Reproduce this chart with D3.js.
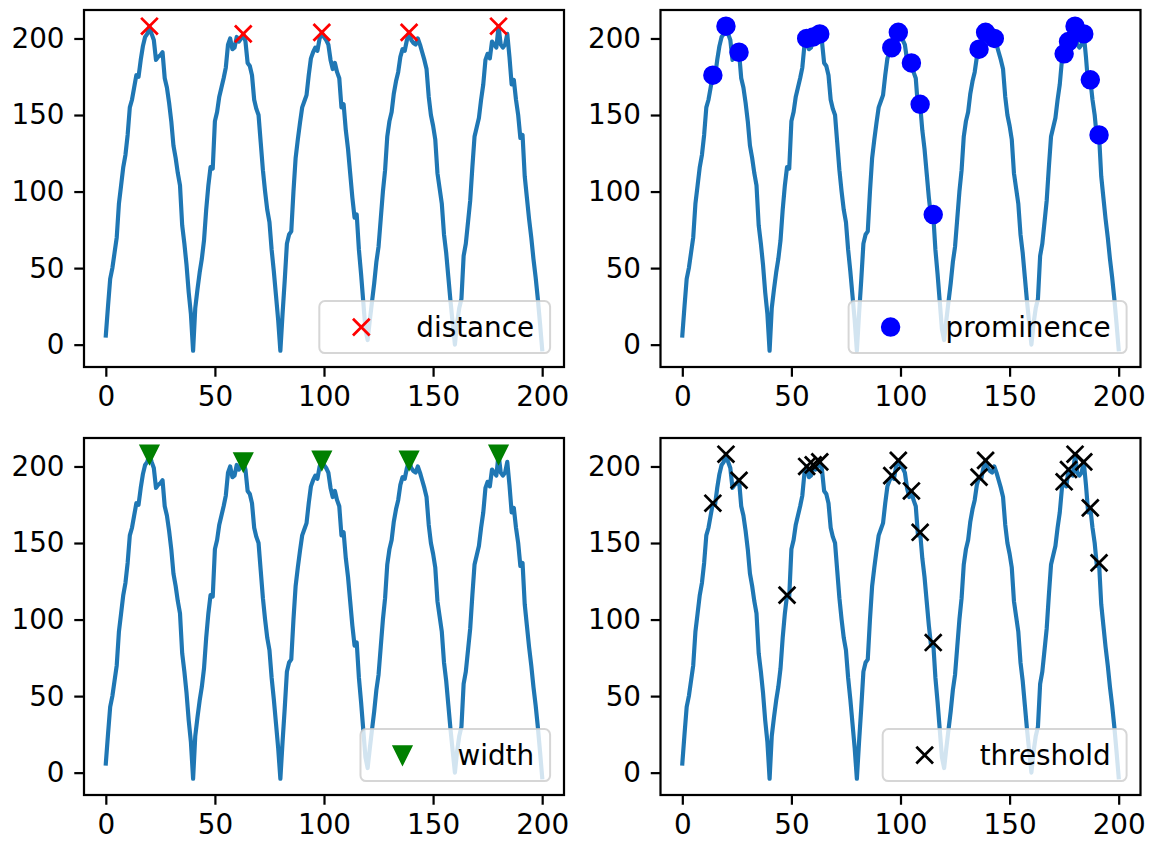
<!DOCTYPE html>
<html>
<head>
<meta charset="utf-8">
<script src="https://cdn.jsdelivr.net/npm/d3@7"></script>
<style>
  body { margin: 0; background: #fff; }
  text { font-family: "DejaVu Sans", sans-serif; }
</style>
</head>
<body>
<div id="chart"></div>
<script>
// signal values, one per sample (x = sample index 0..200)
var signal = [
    6, 25, 43, 50, 60, 70, 92, 104, 116, 124,
    137, 155, 160, 168, 176, 175, 186, 195, 201, 203,
    208, 203, 199, 186, 188, 189, 191, 174, 168, 158,
    146, 130, 122, 112, 104, 78, 66, 52, 34, 20,
    -4, 24, 36, 47, 56, 68, 88, 104, 116, 115,
    146, 152, 162, 168, 174, 181, 196, 200, 193, 194,
    201, 198, 200, 203, 198, 184, 182, 176, 160, 154,
    150, 132, 114, 100, 88, 80, 62, 48, 32, 16,
    -4, 20, 42, 66, 72, 74, 100, 122, 134, 145,
    155, 159, 163, 176, 187, 191, 194, 192, 200, 204,
    201, 199, 196, 186, 180, 184, 178, 174, 155, 157,
    140, 128, 112, 96, 83, 85, 62, 46, 28, 10,
    3, 16, 28, 40, 54, 64, 82, 100, 114, 136,
    146, 152, 164, 172, 178, 188, 193, 192, 199, 204,
    199, 197, 196, 200, 196, 191, 186, 180, 162, 150,
    143, 134, 112, 102, 92, 72, 60, 44, 28, 14,
    0, 14, 24, 30, 58, 66, 80, 94, 116, 136,
    142, 148, 160, 170, 186, 190, 187, 198, 196, 194,
    208, 196, 194, 196, 203, 188, 170, 173, 160, 150,
    135, 137, 110, 96, 82, 70, 56, 44, 30, 14,
    -3
]

// peak indices found with each criterion
var peaks_distance = [20, 63, 99, 139, 180]
var peaks_prominence = [14, 20, 26, 57, 60, 63, 96, 99, 105, 109, 115, 136, 139, 143, 175, 177, 180, 184, 187, 191]
var peaks_width = [20, 63, 99, 139, 180]
var peaks_threshold = [14, 20, 26, 48, 57, 60, 63, 96, 99, 105, 109, 115, 136, 139, 175, 177, 180, 184, 187, 191]

var labels = ['distance', 'prominence', 'width', 'threshold']
var x_ticks = [0, 50, 100, 150, 200]
var y_ticks = [0, 50, 100, 150, 200]

var chart_width = 1152
var chart_height = 854
var fs = 27.8          // 10pt at this dpi
var pt = fs / 10

var svg = d3.select('#chart')
    .append('svg')
    .attr('width', chart_width)
    .attr('height', chart_height)

svg.append('rect')
    .attr('width', chart_width)
    .attr('height', chart_height)
    .attr('fill', '#fff')

var panels = [
    { label: labels[0], peaks: peaks_distance, marker: 'x', color: '#ff0000', left: 84, top: 10 },
    { label: labels[1], peaks: peaks_prominence, marker: 'o', color: '#0000ff', left: 660.5, top: 10 },
    { label: labels[2], peaks: peaks_width, marker: 'v', color: '#008000', left: 84, top: 438 },
    { label: labels[3], peaks: peaks_threshold, marker: 'x', color: '#000000', left: 660.5, top: 438 }
]
var pw = 480
var ph = 357

// matplotlib style 5% margins
var x_ext = [0, signal.length - 1]
var y_ext = d3.extent(signal)
var x_pad = (x_ext[1] - x_ext[0]) * 0.05
var y_pad = (y_ext[1] - y_ext[0]) * 0.05

var ms = 6 * pt / 2  // half marker size

function markerPath(type) {
    if (type === 'x') return 'M' + (-ms) + ',' + (-ms) + 'L' + ms + ',' + ms + 'M' + (-ms) + ',' + ms + 'L' + ms + ',' + (-ms)
    if (type === 'v') return 'M' + (-ms) + ',' + (-ms) + 'L' + ms + ',' + (-ms) + 'L0,' + ms + 'Z'
    return null
}

function drawMarker(sel, type, color) {
    if (type === 'o') {
        sel.append('circle')
            .attr('r', ms)
            .attr('fill', color)
            .attr('stroke', color)
            .attr('stroke-width', pt)
    } else {
        sel.append('path')
            .attr('d', markerPath(type))
            .attr('fill', type === 'x' ? 'none' : color)
            .attr('stroke', color)
            .attr('stroke-width', pt)
    }
}

panels.forEach(function(p, k) {
    var g = svg.append('g')
        .attr('transform', 'translate(' + p.left + ',' + p.top + ')')

    var x_scale = d3.scaleLinear()
        .domain([x_ext[0] - x_pad, x_ext[1] + x_pad])
        .range([0, pw])
    var y_scale = d3.scaleLinear()
        .domain([y_ext[0] - y_pad, y_ext[1] + y_pad])
        .range([ph, 0])

    g.append('clipPath')
        .attr('id', 'clip' + k)
        .append('rect')
        .attr('width', pw)
        .attr('height', ph)

    var line = d3.line()
        .x(function(d, i) { return x_scale(i) })
        .y(function(d) { return y_scale(d) })

    g.append('path')
        .datum(signal)
        .attr('clip-path', 'url(#clip' + k + ')')
        .attr('d', line)
        .attr('fill', 'none')
        .attr('stroke', '#1f77b4')
        .attr('stroke-width', 1.5 * pt)
        .attr('stroke-linejoin', 'round')
        .attr('stroke-linecap', 'square')

    g.selectAll('.pk')
        .data(p.peaks)
        .enter()
        .append('g')
        .attr('class', 'pk')
        .attr('transform', function(d) {
            return 'translate(' + x_scale(d) + ',' + y_scale(signal[d]) + ')'
        })
        .each(function() { drawMarker(d3.select(this), p.marker, p.color) })

    // axes
    var x_axis = d3.axisBottom(x_scale)
        .tickValues(x_ticks)
        .tickSize(3.5 * pt)
        .tickPadding(3.5 * pt)
        .tickSizeOuter(0)
    var y_axis = d3.axisLeft(y_scale)
        .tickValues(y_ticks)
        .tickSize(3.5 * pt)
        .tickPadding(3.5 * pt)
        .tickSizeOuter(0)

    var gx = g.append('g')
        .attr('transform', 'translate(0,' + ph + ')')
        .call(x_axis)
    var gy = g.append('g').call(y_axis)

    ;[gx, gy].forEach(function(a) {
        a.select('.domain').remove()
        a.selectAll('line').attr('stroke', '#000').attr('stroke-width', 0.8 * pt)
        a.selectAll('text')
            .attr('fill', '#000')
            .style('font-size', fs + 'px')
            .style('font-family', '"DejaVu Sans", sans-serif')
    })

    g.append('rect')
        .attr('width', pw)
        .attr('height', ph)
        .attr('fill', 'none')
        .attr('stroke', '#000')
        .attr('stroke-width', 0.8 * pt)

    // legend, lower right
    var lg = g.append('g')
    var lt = lg.append('text')
        .text(p.label)
        .attr('fill', '#000')
        .style('font-size', fs + 'px')
        .attr('dominant-baseline', 'central')
    var tw = lt.node().getComputedTextLength()
    var bw = 97 + tw + 16
    var bh = 52
    var bx = pw - 0.5 * fs - bw
    var by = ph - 0.5 * fs - bh
    lg.insert('rect', 'text')
        .attr('x', bx)
        .attr('y', by)
        .attr('width', bw)
        .attr('height', bh)
        .attr('rx', 0.2 * fs)
        .attr('fill', '#fff')
        .attr('fill-opacity', 0.8)
        .attr('stroke', '#cccccc')
        .attr('stroke-opacity', 0.8)
        .attr('stroke-width', 2)
    lt.attr('x', bx + 97).attr('y', by + bh / 2)
    var lm = lg.append('g')
        .attr('transform', 'translate(' + (bx + 42) + ',' + (by + bh / 2) + ')')
    drawMarker(lm, p.marker, p.color)
})
</script>
</body>
</html>
